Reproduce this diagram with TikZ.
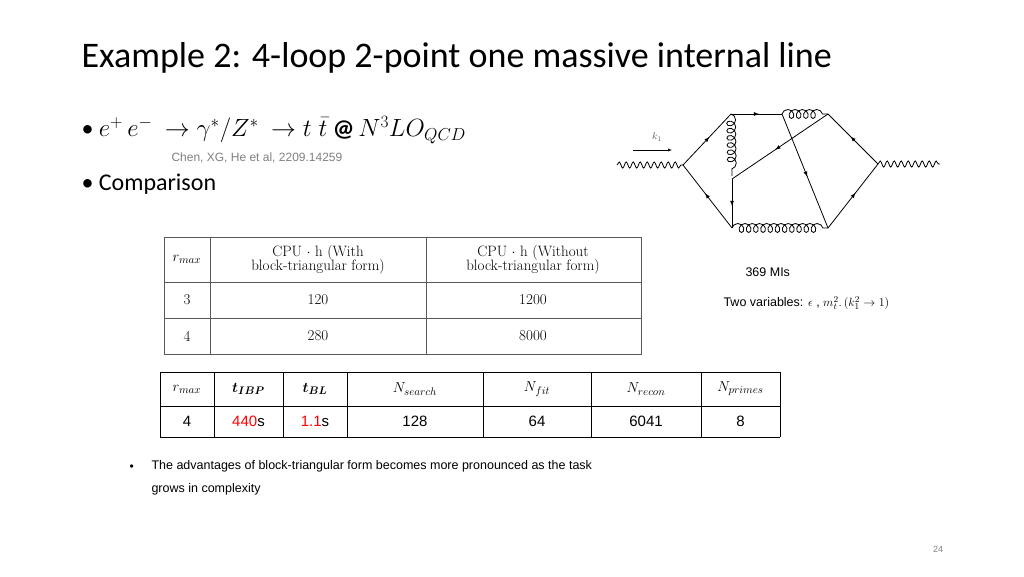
\documentclass[tikz,border=0pt]{standalone}
\usepackage{amsmath,bm}
\usepackage{fontspec}
\setmainfont{Carlito}
\newfontfamily\arial{Liberation Sans}
\newfontfamily\lmr{Latin Modern Roman}
\usetikzlibrary{decorations.pathmorphing,decorations.markings}
\begin{document}
\begin{tikzpicture}[x=1pt,y=-1pt,
 ferm/.style={thick,postaction={decorate},decoration={markings,mark=at position 0.55 with {\arrow{latex}}}},
 gluon/.style={thick,decorate,decoration={coil,aspect=0.9,segment length=7.2pt,amplitude=4.5pt}},
 photon/.style={thick,decorate,decoration={snake,segment length=7pt,amplitude=3pt}},
 tl/.style={line width=0.8pt,draw=gray!70!black},
 t1/.style={font=\lmr\fontsize{15}{17}\selectfont,align=center},
 t2/.style={font=\arial\fontsize{15}{17}\selectfont}]
\useasboundingbox (0,0) rectangle (1024,576);
\fill[white] (0,0) rectangle (1024,576);
\node[anchor=west,font=\fontsize{36}{40}\selectfont] (title) at (78,58) {Example 2: 4-loop 2-point one massive internal line};
\node[anchor=west,font=\fontsize{24}{28}\selectfont] (b1) at (78,130) {\textbullet\ $e^+\,e^-\ \to\gamma^*/Z^*\ \to t\;\bar t$\ \textbf{@}\,$N^3LO_{QCD}$};
\node[anchor=west,font=\arial\fontsize{12}{14}\selectfont,text=gray] (ref) at (168,158) {Chen, XG, He et al, 2209.14259};
\node[anchor=west,font=\fontsize{24}{28}\selectfont] (b2) at (78,184) {\textbullet\ Comparison};
% table 1
\draw[tl] (164,237) rectangle (641,354);
\draw[tl] (164,282) -- (641,282) (164,318) -- (641,318) (210,237) -- (210,354) (426,237) -- (426,354);
\node[t1] (h1) at (187,259.5) {$r_{max}$};
\node[t1] (h2) at (318,259.5) {CPU $\cdot$ h (With\\[-3pt]block-triangular form)};
\node[t1] (h3) at (533,259.5) {CPU $\cdot$ h (Without\\[-3pt]block-triangular form)};
\node[t1] (a1) at (187,300) {3};
\node[t1] (a2) at (318,300) {120};
\node[t1] (a3) at (533,300) {1200};
\node[t1] (c1) at (187,336) {4};
\node[t1] (c2) at (318,336) {280};
\node[t1] (c3) at (533,336) {8000};
% table 2
\draw[line width=1pt] (160,372) -- (780,372) (160,406) -- (780,406) (160,437) -- (780,437);
\foreach \x in {160,214,283,347,483,591,701,780} \draw[line width=1pt] (\x,372) -- (\x,437);
\node[t2] (d1) at (187,389) {$r_{max}$};
\node[t2] (d2) at (248.5,389) {$\bm{t_{IBP}}$};
\node[t2] (d3) at (315,389) {$\bm{t_{BL}}$};
\node[t2] (d4) at (415,389) {$N_{search}$};
\node[t2] (d5) at (537,389) {$N_{fit}$};
\node[t2] (d6) at (646,389) {$N_{recon}$};
\node[t2] (d7) at (740.5,389) {$N_{primes}$};
\node[t2] (e1) at (187,421.5) {4};
\node[t2] (e2) at (248.5,421.5) {\textcolor{red}{440}s};
\node[t2] (e3) at (315,421.5) {\textcolor{red}{1.1}s};
\node[t2] (e4) at (415,421.5) {128};
\node[t2] (e5) at (537,421.5) {64};
\node[t2] (e6) at (646,421.5) {6041};
\node[t2] (e7) at (740.5,421.5) {8};
% bottom bullet
\node[anchor=west,font=\arial\fontsize{12}{14}\selectfont] (bb) at (126,468) {\textbullet};
\node[anchor=north west,align=left,font=\arial\fontsize{12.5}{23}\selectfont] (bt) at (148,457) {The advantages of block-triangular form becomes more pronounced as the task\\grows in complexity};
\node[font=\arial\fontsize{9}{11}\selectfont,text=gray] (pg) at (938,549) {24};
\node[anchor=west,font=\arial\fontsize{12.5}{15}\selectfont] (mis) at (742,272) {369 MIs};
\node[anchor=west,font=\arial\fontsize{12.5}{15}\selectfont] (vars) at (720,303) {Two variables: $\epsilon$ , $m_t^2.\,(k_1^2\to 1)$};
% Feynman diagram
\coordinate (pin) at (617,165);
\coordinate (L) at (683,165);
\coordinate (A) at (731,114);
\coordinate (B) at (782,114);
\coordinate (C) at (828,114);
\coordinate (R) at (878,164);
\coordinate (pout) at (940,164);
\coordinate (D) at (828,228);
\coordinate (E) at (732,228);
\coordinate (F) at (732,179);
\coordinate (G) at (732,176);
\coordinate (k1a) at (633,150);
\coordinate (k1b) at (672,150);
\draw[photon] (pin) -- (L);
\draw[photon] (R) -- (pout);
\draw[ferm] (L) -- (A);
\draw[ferm] (A) -- (B);
\draw[gluon] (B) -- (C);
\draw[ferm] (R) -- (C);
\draw[ferm] (D) -- (R);
\draw[ferm] (E) -- (L);
\draw[gluon] (E) -- (D);
\draw[gluon] (A) -- (G);
\draw[ferm] (F) -- (E);
\draw[ferm] (C) -- (F);
\draw[ferm] (B) -- (D);
\draw[-latex,thin] (k1a) -- (k1b);
\node[font=\lmr\fontsize{10}{12}\selectfont,text=gray!70!black] (k1) at (657,137) {$k_1$};
\end{tikzpicture}
\end{document}
